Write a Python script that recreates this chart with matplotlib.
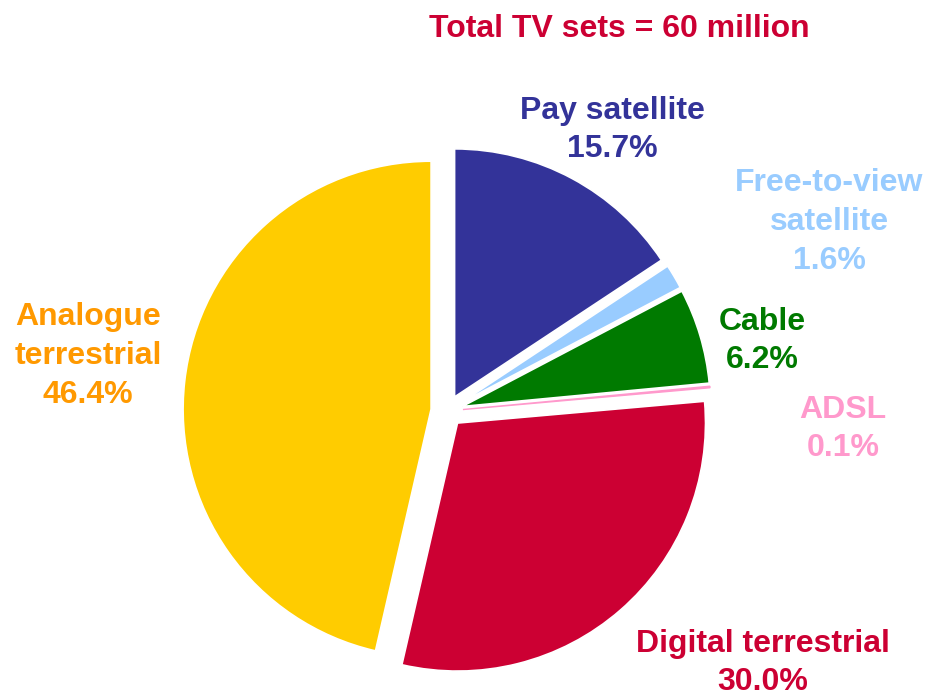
import matplotlib.pyplot as plt

# shares of TV sets by platform (clockwise from 12 o'clock)
labels = ['Pay satellite', 'Free-to-view\nsatellite', 'Cable', 'ADSL',
          'Digital terrestrial', 'Analogue\nterrestrial']
shares = [15.7, 1.6, 6.2, 0.1, 30.0, 46.4]
wedge_colors = ['#333399', '#99CCFF', '#007A00', '#FF99CC', '#CC0033', '#FFCC00']
text_colors = ['#333399', '#99CCFF', '#007A00', '#FF99CC', '#CC0033', '#FF9900']
title = 'Total TV sets = 60 million'

# label anchor positions in pixels (image coords, top-left origin)
label_pos = [(612, 130), (829, 222), (762, 341), (843, 429), (763, 663), (88, 356)]

W, H = 927, 694
plt.rcParams['font.family'] = ['Liberation Sans', 'DejaVu Sans']

fig = plt.figure(figsize=(W / 100, H / 100), dpi=100)
ax = fig.add_axes([0, 0, 1, 1])

wedges, _ = ax.pie(shares, colors=wedge_colors, startangle=90, counterclock=False,
                   center=(447, H - 411), radius=248, explode=[16] * len(shares),
                   wedgeprops=dict(edgecolor='white', linewidth=1.2))
# the tiny ADSL slice would vanish under a white edge
wedges[3].set_edgecolor('#FF99CC')
wedges[3].set_linewidth(1.0)

ax.set_xlim(0, W)
ax.set_ylim(0, H)
ax.set_aspect('equal')
ax.axis('off')

for lab, val, (px, py), c in zip(labels, shares, label_pos, text_colors):
    ax.text(px, H - py, '{}\n{:.1f}%'.format(lab, val), color=c, fontsize=23,
            fontweight='bold', ha='center', va='center', linespacing=1.37)

ax.text(619, H - 29, title, color='#CC0033', fontsize=23, fontweight='bold',
        ha='center', va='center')

fig.savefig('out.png', dpi=100)
